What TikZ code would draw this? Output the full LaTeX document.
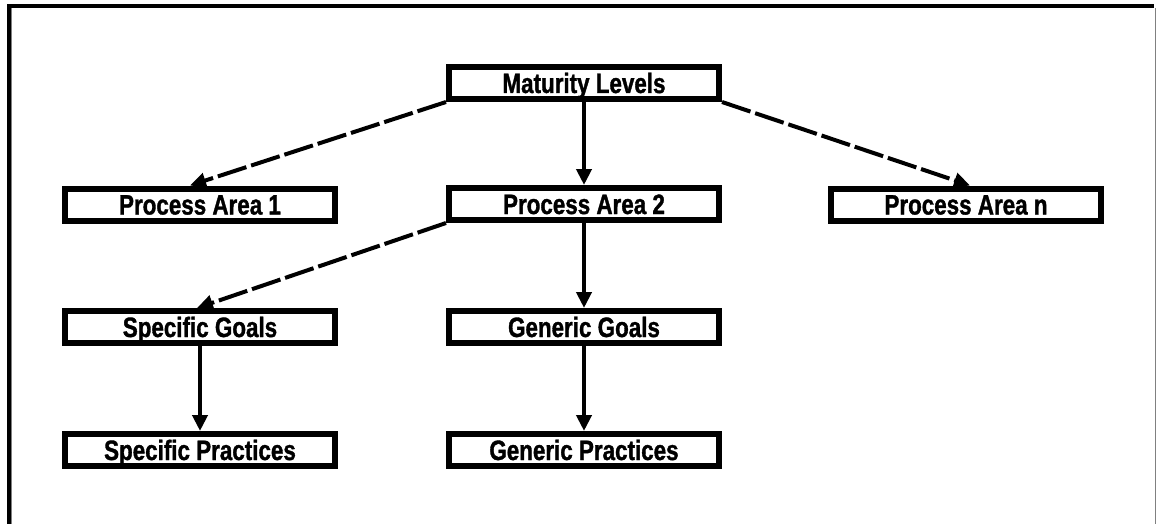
\documentclass[tikz,border=0pt]{standalone}
\usepackage{fontspec}
\setmainfont[FakeStretch=0.8,BoldFeatures={FakeBold=1.2}]{Liberation Sans}
\usetikzlibrary{arrows.meta}
\begin{document}
\begin{tikzpicture}[x=1pt,y=-1pt,
  levelbox/.style={draw=black,line width=6pt,fill=white,rectangle,
    minimum width=270pt,minimum height=32pt,inner sep=0pt,
    text height=20pt,text depth=0pt,
    font=\fontsize{28}{30}\selectfont\bfseries},
  link/.style={line width=4pt,-{Triangle[width=15pt,length=16pt]}},
  slant/.style={link,dash pattern=on 30pt off 5pt}]
  % page and frame
  \useasboundingbox (0,0) rectangle (1156,524);
  \fill[white] (0,0) rectangle (1156,524);
  \draw[line width=4pt] (9,524) -- (9,6.5) -- (1154,6.5);
  \draw[gray,line width=1pt] (11.5,524) -- (11.5,8.5);
  \draw[gray,line width=1.2pt] (1155.2,8) -- (1155.2,524);
  % boxes
  \node[levelbox] (ml)  at (584,83)    {Maturity Levels};
  \node[levelbox] (pa1) at (200,204.5) {Process Area 1};
  \node[levelbox] (pa2) at (584,204)   {Process Area 2};
  \node[levelbox] (pan) at (966,204.5) {Process Area n};
  \node[levelbox] (sg)  at (200,327)   {Specific Goals};
  \node[levelbox] (gg)  at (584,327)   {Generic Goals};
  \node[levelbox] (sp)  at (200,450)   {Specific Practices};
  \node[levelbox] (gp)  at (584,450)   {Generic Practices};
  % connectors
  \draw[slant] (ml.south west) -- ([xshift=-10pt]pa1.north);
  \draw[link]  (ml.south) -- (pa2.north);
  \draw[slant] (ml.south east) -- ([xshift=4pt]pan.north);
  \draw[slant] (pa2.south west) -- ([xshift=-3pt]sg.north);
  \draw[link]  (pa2.south) -- (gg.north);
  \draw[link]  (sg.south) -- (sp.north);
  \draw[link]  (gg.south) -- (gp.north);
\end{tikzpicture}
\end{document}
